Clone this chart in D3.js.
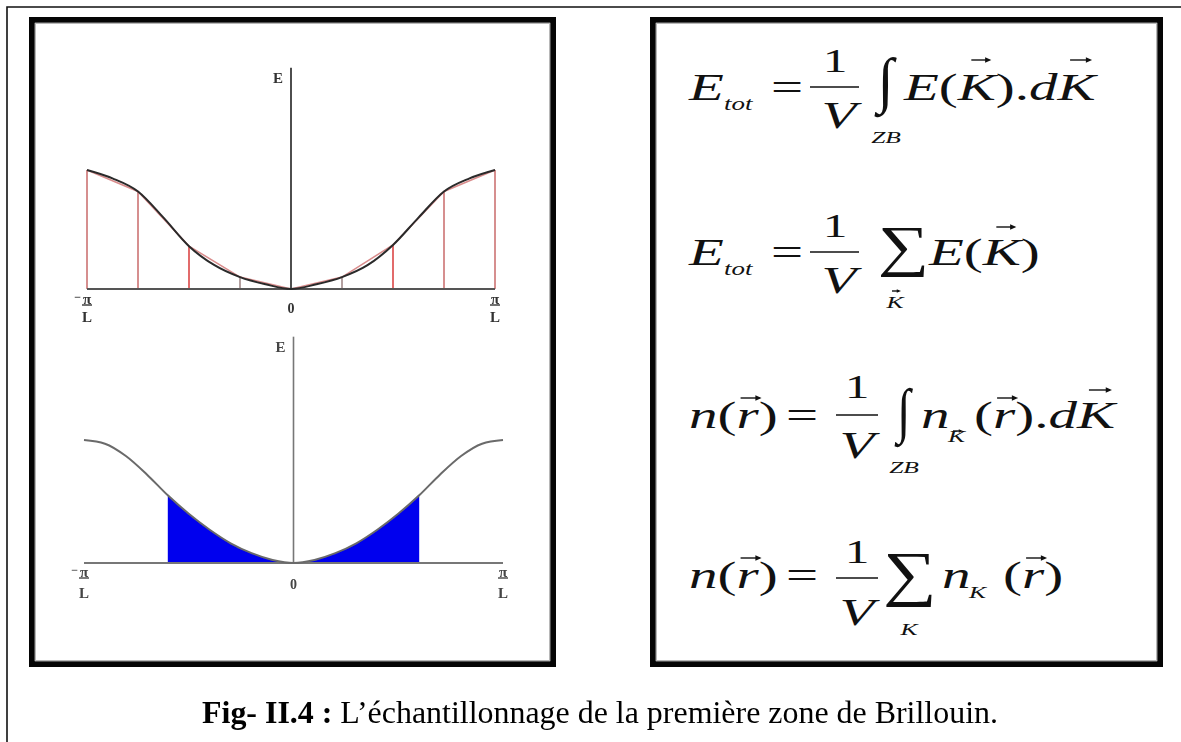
<!DOCTYPE html>
<html>
<head>
<meta charset="utf-8">
<script src="https://cdn.jsdelivr.net/npm/d3@7"></script>
<style>
  html, body { margin: 0; padding: 0; background: #fff; }
  svg { display: block; }
</style>
</head>
<body>
<svg id="fig" width="1181" height="742"></svg>
<script>
// ---- data -------------------------------------------------------------
// Wave vector k in units of π/L, band energy E normalised to its zone-edge value.
const kTop = [-1, -0.875, -0.75, -0.625, -0.5, -0.375, -0.25, -0.125, 0,
              0.125, 0.25, 0.375, 0.5, 0.625, 0.75, 0.875, 1];
const eTop = [1.0, 0.93, 0.82, 0.60, 0.36, 0.20, 0.10, 0.04, 0,
              0.04, 0.10, 0.20, 0.37, 0.60, 0.82, 0.93, 1.0];
// k-points where the band is sampled (vertical red lines)
const kSamples = [-1, -0.75, -0.5, -0.25, 0.25, 0.5, 0.75, 1];

const kBottom = [-1, -0.9, -0.8, -0.7, -0.6, -0.5, -0.4, -0.3, -0.2, -0.1, 0,
                 0.1, 0.2, 0.3, 0.4, 0.5, 0.6, 0.7, 0.8, 0.9, 1];
const eBottom = [1.0, 0.97, 0.87, 0.72, 0.55, 0.40, 0.27, 0.16, 0.08, 0.025, 0,
                 0.025, 0.08, 0.16, 0.27, 0.40, 0.55, 0.72, 0.87, 0.97, 1.0];
// occupied part of the band (filled)
const kFilled = [-0.6, 0.6];

// axis ticks (k in units of π/L) and their labels
const tickValues = [-1, 0, 1];
const tickSigns  = ["−", "", ""];
const tickNums   = ["π", "0", "π"];
const tickDens   = ["L", "", "L"];
const axisName = "E";

const caption = ["Fig- II.4 :", " L’échantillonnage de la première zone de Brillouin."];

// ---- setup ------------------------------------------------------------
const svg = d3.select("#fig");
const serif = "'Liberation Serif','Times New Roman',serif";

const defs = svg.append("defs");
defs.append("filter").attr("id", "soft")
  .append("feGaussianBlur").attr("stdDeviation", 0.45);

// page frame (left and top rules)
svg.append("path")
  .attr("d", "M7,742 V7 H1181")
  .attr("fill", "none").attr("stroke", "#111").attr("stroke-width", 1.6);

// panel boxes
function panel(x0, y0, x1, y1) {
  const sw = 5.8;
  svg.append("rect")
    .attr("x", x0 + sw / 2).attr("y", y0 + sw / 2)
    .attr("width", x1 - x0 - sw).attr("height", y1 - y0 - sw)
    .attr("fill", "#fff").attr("stroke", "#050505").attr("stroke-width", sw);
  svg.append("rect")
    .attr("x", x0 + sw + 0.6).attr("y", y0 + sw + 0.6)
    .attr("width", x1 - x0 - 2 * sw - 1.2).attr("height", y1 - y0 - 2 * sw - 1.2)
    .attr("fill", "none").attr("stroke", "#b8b8b8").attr("stroke-width", 1.2);
}
panel(29, 17, 556, 667);
panel(650, 17, 1163, 667);

// ---- band plots ---------------------------------------------------------
function drawAxes(g, x, y, yTopValue, axisColor, vColor, labelColor, layout) {
  g.append("line")
    .attr("x1", x(-1)).attr("x2", x(1)).attr("y1", y(0)).attr("y2", y(0))
    .attr("stroke", axisColor).attr("stroke-width", 1.8);
  g.append("line")
    .attr("x1", x(0)).attr("x2", x(0)).attr("y1", y(0)).attr("y2", y(yTopValue))
    .attr("stroke", vColor).attr("stroke-width", 1.6);
  g.append("text")
    .attr("x", x(0) - 8).attr("y", y(yTopValue) + 15)
    .attr("text-anchor", "end")
    .attr("font-family", serif).attr("font-weight", "bold")
    .attr("font-size", 15).attr("fill", labelColor)
    .text(axisName);

  const ticks = g.selectAll("g.tick").data(tickValues).join("g")
    .attr("class", "tick")
    .attr("transform", d => `translate(${x(d)},${y(0)})`);
  ticks.each(function (d, i) {
    const t = d3.select(this);
    const txt = (sel, size) => sel.attr("font-size", size).attr("font-family", serif)
      .attr("font-weight", "bold").attr("fill", labelColor);
    if (tickDens[i]) {
      txt(t.append("text").attr("y", layout.num).attr("text-anchor", "middle"), 15)
        .text(tickNums[i]);
      t.append("line").attr("x1", -5).attr("x2", 5)
        .attr("y1", layout.num + 1).attr("y2", layout.num + 1)
        .attr("stroke", labelColor).attr("stroke-width", 1.4);
      txt(t.append("text").attr("y", layout.den).attr("text-anchor", "middle"), 15)
        .text(tickDens[i]);
      if (tickSigns[i]) {
        txt(t.append("text").attr("x", -6).attr("y", layout.num - 3).attr("text-anchor", "end"), 12)
          .text(tickSigns[i]);
      }
    } else {
      txt(t.append("text").attr("y", layout.zero).attr("text-anchor", "middle"), 14)
        .text(tickNums[i]);
    }
  });
}

// upper plot: sampled band
{
  const g = svg.append("g").attr("filter", "url(#soft)");
  const x = d3.scaleLinear().domain([-1, 1]).range([87, 495]);
  const y = d3.scaleLinear().domain([0, 1]).range([289, 170]);
  const pts = kTop.map((k, i) => ({ k, e: eTop[i] }));
  const sampled = pts.filter(p => p.k === 0 || kSamples.includes(p.k));

  // sampling lines
  g.selectAll("line.sample").data(sampled.filter(p => p.k !== 0)).join("line")
    .attr("class", "sample")
    .attr("x1", d => x(d.k)).attr("x2", d => x(d.k))
    .attr("y1", y(0)).attr("y2", d => y(d.e))
    .attr("stroke", d => Math.abs(d.k) === 0.5 ? "#d83a3a" : Math.abs(d.k) === 0.25 ? "#9a8080" : "#c86a6a")
    .attr("stroke-width", 1.5);
  // chords between sampled energies
  g.append("path").datum(sampled)
    .attr("d", d3.line().x(d => x(d.k)).y(d => y(d.e)))
    .attr("fill", "none").attr("stroke", "#d98c8c").attr("stroke-width", 1.6);

  drawAxes(g, x, y, 1.86, "#555", "#222", "#333", { num: 15, den: 33, zero: 24 });

  // band E(k)
  g.append("path").datum(pts)
    .attr("d", d3.line().x(d => x(d.k)).y(d => y(d.e)).curve(d3.curveMonotoneX))
    .attr("fill", "none").attr("stroke", "#2a2a2a").attr("stroke-width", 2);
}

// lower plot: occupied states
{
  const g = svg.append("g").attr("filter", "url(#soft)");
  const x = d3.scaleLinear().domain([-1, 1]).range([84, 503]);
  const y = d3.scaleLinear().domain([0, 1]).range([563, 440]);
  const pts = kBottom.map((k, i) => ({ k, e: eBottom[i] }));

  defs.append("clipPath").attr("id", "occupied")
    .append("rect")
    .attr("x", x(kFilled[0])).attr("width", x(kFilled[1]) - x(kFilled[0]))
    .attr("y", 0).attr("height", 742);
  g.append("path").datum(pts)
    .attr("clip-path", "url(#occupied)")
    .attr("d", d3.area().x(d => x(d.k)).y0(y(0)).y1(d => y(d.e)).curve(d3.curveMonotoneX))
    .attr("fill", "#0000ee");

  drawAxes(g, x, y, 1.84, "#777", "#777", "#444", { num: 14, den: 35, zero: 26 });

  g.append("path").datum(pts)
    .attr("d", d3.line().x(d => x(d.k)).y(d => y(d.e)).curve(d3.curveMonotoneX))
    .attr("fill", "none").attr("stroke", "#6a6a6a").attr("stroke-width", 2);
}

// ---- formulas ---------------------------------------------------------
const SX = 1.5;              // horizontal stretch of the equation typesetting
const fg = svg.append("g").attr("fill", "#111");

function mtext(x, y, parts, size, anchor) {
  const t = fg.append("text")
    .attr("transform", `translate(${x},${y}) scale(${SX},1)`)
    .attr("font-family", serif).attr("font-size", size)
    .attr("text-anchor", anchor || "start");
  parts.forEach(([s, it]) => t.append("tspan").attr("font-style", it ? "italic" : "normal").text(s));
  return { node: t.node(), x, y };
}
function arrowAt(x1, x2, y, head) {
  head = head || 4;
  fg.append("line").attr("x1", x1).attr("x2", x2 - 1).attr("y1", y).attr("y2", y)
    .attr("stroke", "#111").attr("stroke-width", 1.4);
  fg.append("path")
    .attr("d", `M${x2 + 1},${y} L${x2 - head * 1.3},${y - head * 0.7} L${x2 - head * 1.3},${y + head * 0.7}Z`)
    .attr("fill", "#111");
}
// arrow over character i of a text made by mtext
function vecOver(m, i, rise, len, shift) {
  const r = m.node.getExtentOfChar(i);
  const cx = m.x + SX * (r.x + r.width / 2) + (shift || 0);
  arrowAt(cx - len / 2, cx + len / 2, m.y - rise, len > 12 ? 4 : 2.5);
}
function fracBar(x1, x2, y) {
  fg.append("line").attr("x1", x1).attr("x2", x2).attr("y1", y).attr("y2", y)
    .attr("stroke", "#111").attr("stroke-width", 1.6);
}
// large operator (∫, ∑) fitted to a box using the glyph's ink bounds
function bigOp(ch, bx, by, bw, bh) {
  const ctx = document.createElement("canvas").getContext("2d");
  ctx.font = `100px ${serif}`;
  const m = ctx.measureText(ch);
  const asc = m.actualBoundingBoxAscent, desc = m.actualBoundingBoxDescent;
  const left = m.actualBoundingBoxLeft, right = m.actualBoundingBoxRight;
  const fs = 100 * bh / (asc + desc);
  const k = fs / 100;
  const sx = bw / ((left + right) * k);
  fg.append("text")
    .attr("transform", `translate(${bx + left * k * sx},${by + asc * k}) scale(${sx},1)`)
    .attr("font-family", serif).attr("font-size", fs).text(ch);
}

// E_tot = 1/V ∫_ZB E(K).dK
{
  const b = 100;
  mtext(689, b, [["E", 1]], 38);
  mtext(724, b + 10, [["tot", 1]], 18);
  mtext(771, b, [["=", 0]], 38);
  fracBar(810, 859, b - 13);
  mtext(835, b - 28, [["1", 0]], 33, "middle");
  mtext(839, b + 28, [["V", 1]], 38, "middle");
  bigOp("∫", 874, b - 43, 23, 61);
  mtext(886, b + 43, [["ZB", 1]], 17, "middle");
  const t = mtext(904, b, [["E", 1], ["(", 0], ["K", 1], [")", 0], [".", 0], ["dK", 1]], 38);
  vecOver(t, 2, 40, 19, 4);
  vecOver(t, 6, 40, 21, 4);
}
// E_tot = 1/V Σ_K E(K)
{
  const b = 265;
  mtext(689, b, [["E", 1]], 38);
  mtext(724, b + 10, [["tot", 1]], 18);
  mtext(771, b, [["=", 0]], 38);
  fracBar(810, 859, b - 13);
  mtext(835, b - 28, [["1", 0]], 33, "middle");
  mtext(839, b + 28, [["V", 1]], 38, "middle");
  bigOp("∑", 881, b - 38, 44, 50);
  const s = mtext(895, b + 43, [["K", 1]], 17, "middle");
  vecOver(s, 0, 17, 8, 1);
  const t = mtext(929, b, [["E", 1], ["(", 0], ["K", 1], [")", 0]], 38);
  vecOver(t, 2, 38, 19, 4);
}
// n(r) = 1/V ∫_ZB n_K(r).dK
{
  const b = 428;
  const l = mtext(689, b, [["n", 1], ["(", 0], ["r", 1], [")", 0]], 38);
  vecOver(l, 2, 30, 20, 3);
  mtext(786, b, [["=", 0]], 38);
  fracBar(836, 878, b - 13);
  mtext(857, b - 30, [["1", 0]], 33, "middle");
  mtext(857, b + 30, [["V", 1]], 38, "middle");
  bigOp("∫", 894, b - 41, 19, 60);
  mtext(904, b + 45, [["ZB", 1]], 17, "middle");
  mtext(921, b, [["n", 1]], 38);
  const s = mtext(948, b + 14, [["K", 1]], 17);
  vecOver(s, 0, 11, 9, 1);
  const t = mtext(974, b, [["(", 0], ["r", 1], [")", 0], [".", 0], ["dK", 1]], 38);
  vecOver(t, 1, 30, 20, 3);
  vecOver(t, 5, 38, 22, 4);
}
// n(r) = 1/V Σ_K n_K(r)
{
  const b = 588;
  const l = mtext(689, b, [["n", 1], ["(", 0], ["r", 1], [")", 0]], 38);
  vecOver(l, 2, 30, 20, 3);
  mtext(786, b, [["=", 0]], 38);
  fracBar(836, 878, b - 10);
  mtext(857, b - 25, [["1", 0]], 33, "middle");
  mtext(857, b + 37, [["V", 1]], 38, "middle");
  bigOp("∑", 886, b - 35, 46, 54);
  mtext(909, b + 47, [["K", 1]], 17, "middle");
  mtext(942, b, [["n", 1]], 38);
  mtext(969, b + 10, [["K", 1]], 17);
  const t = mtext(1003, b, [["(", 0], ["r", 1], [")", 0]], 38);
  vecOver(t, 1, 30, 20, 3);
}

// ---- caption ------------------------------------------------------------
{
  const t = svg.append("text")
    .attr("x", 202).attr("y", 723)
    .attr("font-family", serif).attr("font-size", 31).attr("fill", "#000")
    .attr("textLength", 796).attr("lengthAdjust", "spacingAndGlyphs");
  t.append("tspan").attr("font-weight", "bold").text(caption[0]);
  t.append("tspan").text(caption[1]);
}
</script>
</body>
</html>
